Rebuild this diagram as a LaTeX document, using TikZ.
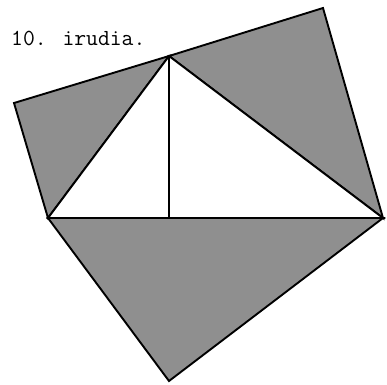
\documentclass[tikz,border=0pt]{standalone}
\usetikzlibrary{positioning,calc}
\definecolor{ink}{HTML}{000000}
\definecolor{shade}{HTML}{8F8F8F}
\tikzset{
  edge/.style={draw=ink, line width=1.9pt, line join=miter},
  flap/.style={edge, fill=shade},
  caption/.style={font=\fontsize{23}{23}\selectfont\ttfamily, text=ink, inner sep=0pt, anchor=base west},
}

\begin{document}
\begin{tikzpicture}[x=1pt, y=-1pt]
    \useasboundingbox (0,0) rectangle (387,384);
    % triangle corners
    \coordinate (A) at (48,218);
    \coordinate (B) at (383,218);
    \coordinate (C) at (169,56);
    \coordinate (H) at (169,218);
    % outer tips of the flaps
    \coordinate (L) at (14,103);
    \coordinate (R) at (323,8);
    \coordinate (D) at (169,381);
    \draw[flap] (A) -- (L) -- (C) -- cycle;
    \draw[flap] (C) -- (R) -- (B) -- cycle;
    \draw[flap] (A) -- (B) -- (D) -- cycle;
    \draw[edge, fill=white] (A) -- (C) -- (B) -- cycle;
    \draw[edge] (C) -- (H);
    \node[caption] (title) at (11,45) {10. irudia.};
\end{tikzpicture}
\end{document}
